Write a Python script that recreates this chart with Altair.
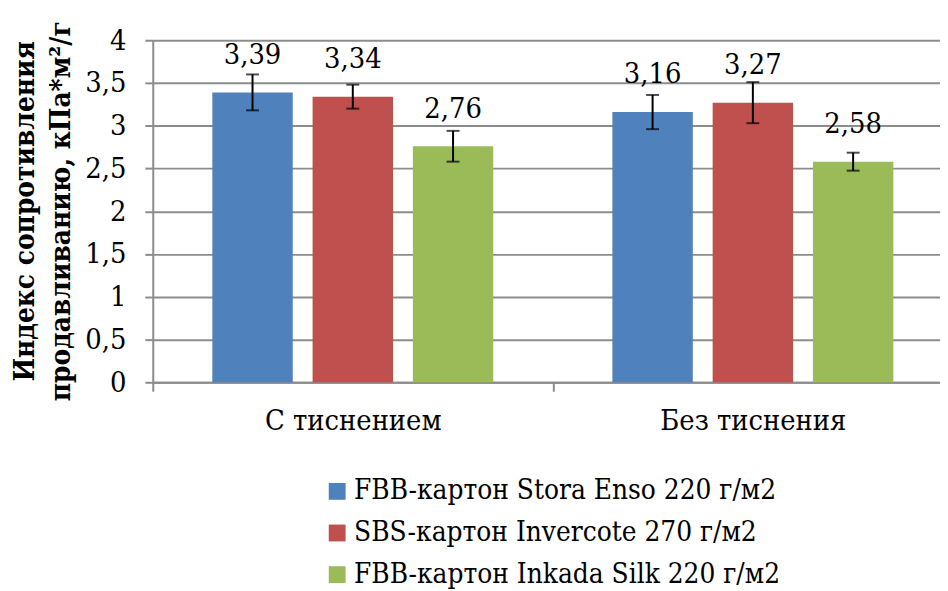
import altair as alt
import pandas as pd

categories = ["С тиснением", "Без тиснения"]
series = [
    "FBB-картон Stora Enso 220 г/м2",
    "SBS-картон Invercote 270 г/м2",
    "FBB-картон Inkada Silk 220 г/м2",
]
values_embossed = [3.39, 3.34, 2.76]
values_plain = [3.16, 3.27, 2.58]
errors_embossed = [0.21, 0.14, 0.18]
errors_plain = [0.20, 0.24, 0.105]
colors = ["#4F81BD", "#C0504D", "#9BBB59"]
y_ticks = [0, 0.5, 1, 1.5, 2, 2.5, 3, 3.5, 4]
y_title = ["Индекс сопротивления", "продавливанию, кПа*м²/г"]

rows = []
for cat, vals, errs in zip(categories, [values_embossed, values_plain], [errors_embossed, errors_plain]):
    for s, v, e in zip(series, vals, errs):
        rows.append({
            "cat": cat, "series": s, "value": v, "lo": v - e, "hi": v + e,
            "label": f"{v:.2f}".replace(".", ","),
        })
df = pd.DataFrame(rows)

FONT = "DejaVu Serif Condensed"
GRAY = "#8c8c8c"

x_enc = alt.X(
    "cat:N", sort=categories,
    scale=alt.Scale(range=[0, 807], paddingInner=0, paddingOuter=0),
    axis=alt.Axis(
        title=None, labelAngle=0, tickBand="extent", labelFont=FONT, labelFontSize=29,
        labelColor="black", labelPadding=16, tickSize=9, tickColor=GRAY, tickWidth=2,
        domainColor=GRAY, domainWidth=2, grid=False, labelLimit=0,
    ),
)
xo_enc = alt.XOffset("series:N", sort=series,
                     scale=alt.Scale(paddingInner=0.198, paddingOuter=0.594))

y_axis = alt.Axis(
    title=y_title, values=y_ticks,
    labelExpr="replace(toString(datum.value), '.', ',')",
    labelFont=FONT, labelFontSize=29, labelColor="black", labelPadding=19,
    tickSize=8, tickColor=GRAY, tickWidth=2, domainColor=GRAY, domainWidth=2,
    grid=True, gridColor=GRAY, gridWidth=2,
    titleFont=FONT, titleFontSize=28, titleFontWeight="bold", titleColor="black",
    titleAngle=270, titleAlign="center", titleBaseline="alphabetic",
    titleX=-120, titleY=172, titleLineHeight=36, titleLimit=0,
)
y_scale = alt.Scale(domain=[0, 4], nice=False)

base = alt.Chart(df)

bars = base.mark_bar().encode(
    x=x_enc, xOffset=xo_enc,
    y=alt.Y("value:Q", scale=y_scale, axis=y_axis),
    color=alt.Color(
        "series:N", sort=series,
        scale=alt.Scale(domain=series, range=colors),
        legend=alt.Legend(
            title=None, orient="none", legendX=172, legendY=441, direction="vertical",
            symbolType="square", symbolSize=289, symbolStrokeWidth=0,
            labelFont=FONT, labelFontSize=28, labelColor="black", labelLimit=0,
            rowPadding=14, labelOffset=3,
        ),
    ),
)

rules = base.mark_rule(color="black", strokeWidth=2).encode(
    x=x_enc, xOffset=xo_enc,
    y=alt.Y("lo:Q", scale=y_scale, axis=y_axis), y2="hi:Q",
)
caps_lo = base.mark_tick(color="black", thickness=2, size=13).encode(
    x=x_enc, xOffset=xo_enc, y=alt.Y("lo:Q", scale=y_scale, axis=y_axis),
)
caps_hi = base.mark_tick(color="black", thickness=2, size=13).encode(
    x=x_enc, xOffset=xo_enc, y=alt.Y("hi:Q", scale=y_scale, axis=y_axis),
)
labels = base.mark_text(
    font=FONT, fontSize=29, color="black", baseline="alphabetic", dy=-29,
).encode(
    x=x_enc, xOffset=xo_enc, y=alt.Y("value:Q", scale=y_scale, axis=y_axis),
    text="label:N",
)

chart = alt.layer(bars, rules, caps_lo, caps_hi, labels).properties(
    width=794, height=345,
    autosize=alt.AutoSizeParams(type="none"),
    padding={"left": 146, "top": 30, "right": 0, "bottom": 208},
).configure_view(stroke=None)

chart.save("out.html", embed_options={"renderer": "svg", "actions": False})
